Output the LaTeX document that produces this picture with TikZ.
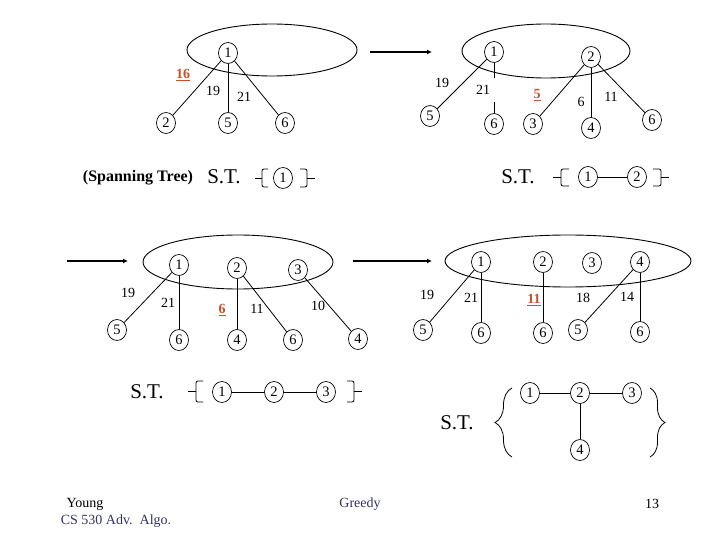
\documentclass[tikz,border=0pt]{standalone}
\usepackage{fontspec}
\setmainfont{Liberation Serif}
\usetikzlibrary{arrows.meta,shapes.geometric,decorations.pathreplacing}
\definecolor{pickred}{RGB}{200,80,40}
\definecolor{footnavy}{RGB}{51,51,102}

\begin{document}
\begin{tikzpicture}[x=1pt, y=-1pt,
  vtx/.style={draw, ellipse, line width=0.7pt, minimum width=19pt, minimum height=21pt, inner sep=0pt, font=\fontsize{14.5}{14.5}\selectfont},
  wt/.style={inner sep=1pt, font=\fontsize{14}{14}\selectfont},
  pick/.style={inner sep=1pt, text=pickred, font=\fontsize{14}{14}\selectfont\bfseries},
  edge/.style={line width=0.8pt},
  grp/.style={line width=0.9pt},
  nextarr/.style={line width=2.2pt, -{Latex[length=5pt,width=5pt]}},
  brk/.style={line width=0.8pt, rounded corners=2pt},
  bigbrc/.style={line width=0.8pt, decorate, decoration={brace, amplitude=#1}},
  st/.style={font=\fontsize{21}{21}\selectfont}]
  \useasboundingbox (0,0) rectangle (720,540);

  % step 1: start at vertex 1
  \draw[grp] (272,50) ellipse [x radius=85pt, y radius=26pt];
  \node[vtx] (a1) at (228,53) {1};
  \node[vtx] (a2) at (166,123) {2};
  \node[vtx] (a5) at (228,123) {5};
  \node[vtx] (a6) at (285,123) {6};
  \draw[edge] (a1) -- (a2);
  \draw[edge] (a1) -- (a5);
  \draw[edge] (a1) -- (a6);
  \node[pick] (wa16) at (183,75) {\underline{16}};
  \node[wt] (wa19) at (213,91) {19};
  \node[wt] (wa21) at (244,97) {21};
  \node[font=\fontsize{16}{16}\selectfont\bfseries] (span) at (138,178) {(Spanning Tree)};
  \node[st] (sta) at (224,177) {S.T.};
  \draw[brk] (268,169) -- (262,169) -- (262,187) -- (268,187);
  \draw[brk] (262,178) -- (255,178);
  \node[vtx] (sa1) at (283,178) {1};
  \draw[brk] (300,169) -- (307,169) -- (307,187) -- (300,187);
  \draw[brk] (307,178) -- (315,178);

  % step 2: add vertex 2
  \coordinate (ab0) at (370,52);
  \coordinate (ab1) at (432,52);
  \draw[nextarr] (ab0) -- (ab1);
  \draw[grp] (546,51) ellipse [x radius=84pt, y radius=27pt];
  \node[vtx] (b1) at (494,52) {1};
  \node[vtx] (b2) at (591,57) {2};
  \node[vtx] (b5) at (430,116) {5};
  \node[vtx] (b6) at (494,124) {6};
  \node[vtx] (b3) at (533,124) {3};
  \node[vtx] (b4) at (591,128) {4};
  \node[vtx] (b6x) at (652,120) {6};
  \draw[edge] (b1) -- (b5);
  \draw[edge] (b1) -- (b6);
  \draw[edge] (b2) -- (b3);
  \draw[edge] (b2) -- (b4);
  \draw[edge] (b2) -- (b6x);
  \node[wt] (wb19) at (442,83) {19};
  \node[wt, fill=white, inner xsep=6pt, inner ysep=7pt] (wb21) at (483,90) {21};
  \node[pick] (wb5) at (537,95) {\underline{5}};
  \node[wt] (wb6) at (581,102) {6};
  \node[wt] (wb11) at (611,97) {11};
  \node[st] (stb) at (518,177) {S.T.};
  \draw[brk] (569,169) -- (561,169) -- (561,186) -- (569,186);
  \draw[brk] (561,177) -- (553,177);
  \node[vtx] (sb1) at (588,177) {1};
  \node[vtx] (sb2) at (637,177) {2};
  \draw[edge] (sb1) -- (sb2);
  \draw[brk] (653,169) -- (661,169) -- (661,186) -- (653,186);
  \draw[brk] (661,177) -- (669,177);

  % step 3: add vertex 3
  \coordinate (bc0) at (67,261);
  \coordinate (bc1) at (128,261);
  \draw[nextarr] (bc0) -- (bc1);
  \draw[grp] (238,262) ellipse [x radius=95pt, y radius=27pt];
  \node[vtx] (c1) at (179,265) {1};
  \node[vtx] (c2) at (237,268) {2};
  \node[vtx] (c3) at (298,270) {3};
  \node[vtx] (c5) at (117,330) {5};
  \node[vtx] (c6) at (179,340) {6};
  \node[vtx] (c4) at (237,340) {4};
  \node[vtx] (c6x) at (293,340) {6};
  \node[vtx] (c4x) at (358,339) {4};
  \draw[edge] (c1) -- (c5);
  \draw[edge] (c1) -- (c6);
  \draw[edge] (c2) -- (c4);
  \draw[edge] (c2) -- (c6x);
  \draw[edge] (c3) -- (c4x);
  \node[wt] (wc19) at (128,293) {19};
  \node[wt] (wc21) at (168,303) {21};
  \node[pick] (wc6) at (222,310) {\underline{6}};
  \node[wt] (wc11) at (257,309) {11};
  \node[wt] (wc10) at (318,306) {10};
  \node[st] (stc) at (147,392) {S.T.};
  \draw[brk] (203,381) -- (196,381) -- (196,402) -- (203,402);
  \draw[brk] (196,391) -- (188,391);
  \node[vtx] (sc1) at (222,392) {1};
  \node[vtx] (sc2) at (274,392) {2};
  \node[vtx] (sc3) at (326,392) {3};
  \draw[edge] (sc1) -- (sc2);
  \draw[edge] (sc2) -- (sc3);
  \draw[brk] (347,381) -- (354,381) -- (354,402) -- (347,402);
  \draw[brk] (354,391) -- (362,391);

  % step 4: add vertex 4
  \coordinate (cd0) at (353,261);
  \coordinate (cd1) at (432,261);
  \draw[nextarr] (cd0) -- (cd1);
  \draw[grp] (568,261) ellipse [x radius=123pt, y radius=26pt];
  \node[vtx] (d1) at (481,262) {1};
  \node[vtx] (d2) at (543,262) {2};
  \node[vtx] (d3) at (592,263) {3};
  \node[vtx] (d4) at (640,262) {4};
  \node[vtx] (d5) at (423,330) {5};
  \node[vtx] (d6) at (481,333) {6};
  \node[vtx] (d6x) at (543,333) {6};
  \node[vtx] (d5x) at (578,330) {5};
  \node[vtx] (d6y) at (640,332) {6};
  \draw[edge] (d1) -- (d5);
  \draw[edge] (d1) -- (d6);
  \draw[edge] (d2) -- (d6x);
  \draw[edge] (d4) -- (d5x);
  \draw[edge] (d4) -- (d6y);
  \node[wt] (wd19) at (427,295) {19};
  \node[wt] (wd21) at (471,298) {21};
  \node[pick] (wd11) at (534,300) {\underline{11}};
  \node[wt] (wd18) at (583,298) {18};
  \node[wt] (wd14) at (627,297) {14};
  \node[st] (std) at (457,423) {S.T.};
  \draw[bigbrc=17pt] (512,457) -- (512,388);
  \node[vtx] (sd1) at (530,393) {1};
  \node[vtx] (sd2) at (580,393) {2};
  \node[vtx] (sd3) at (632,393) {3};
  \node[vtx] (sd4) at (580,450) {4};
  \draw[edge] (sd1) -- (sd2);
  \draw[edge] (sd2) -- (sd3);
  \draw[edge] (sd2) -- (sd4);
  \draw[bigbrc=15pt] (650,388) -- (650,457);

  % footer
  \node[font=\fontsize{14}{14}\selectfont] (who) at (85,504) {Young};
  \node[font=\fontsize{14}{14}\selectfont, text=footnavy] (course) at (116,521) {CS 530 Adv.\ \ Algo.};
  \node[font=\fontsize{14}{14}\selectfont, text=footnavy] (topic) at (360,504) {Greedy};
  \node[font=\fontsize{14}{14}\selectfont] (page) at (652,504) {13};
\end{tikzpicture}
\end{document}
